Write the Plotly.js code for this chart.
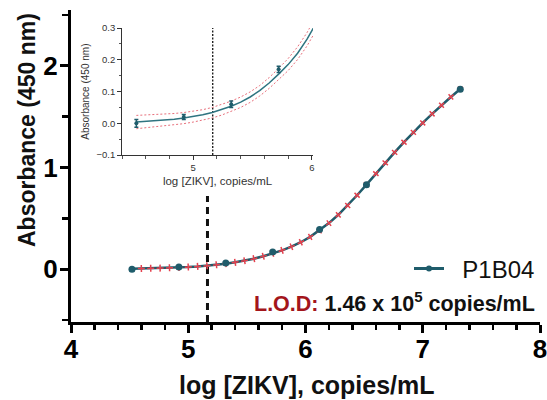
<!DOCTYPE html>
<html>
<head>
<meta charset="utf-8">
<script src="https://cdn.plot.ly/plotly-3.0.1.min.js"></script>
<style>html,body{margin:0;padding:0;background:#fff;}#chart{width:547px;height:400px;}</style>
</head>
<body>
<div id="chart"></div>
<script>
// Measured data points (log copies/mL vs absorbance)
const dataX = [4.52, 4.92, 5.32, 5.72, 6.12, 6.52, 7.32];
const dataY = [0.00, 0.02, 0.06, 0.17, 0.39, 0.83, 1.77];
const insetX = [4.52, 4.92, 5.32, 5.72];
const insetY = [0.00, 0.02, 0.06, 0.17];
const insetErr = [0.012, 0.008, 0.010, 0.010];

// Fitted curve
const fitX = [4.52,4.60,4.68,4.76,4.84,4.92,5.00,5.08,5.16,5.24,5.32,5.40,5.48,5.56,5.64,5.72,5.80,5.88,5.96,6.04,
              6.12,6.20,6.28,6.36,6.44,6.52,6.60,6.68,6.76,6.84,6.92,7.00,7.08,7.16,7.24,7.32];
const fitY = [0.004,0.006,0.008,0.010,0.013,0.017,0.021,0.027,0.034,0.043,0.054,0.067,0.083,0.103,0.127,0.155,0.185,0.221,0.265,0.318,
              0.381,0.453,0.535,0.627,0.727,0.832,0.940,1.046,1.149,1.249,1.346,1.439,1.528,1.613,1.694,1.772];

// Confidence band (inset)
const bandX = [4.52,4.60,4.68,4.76,4.84,4.92,5.00,5.08,5.16,5.24,5.32,5.40,5.48,5.56,5.64,5.72,5.80,5.88,5.96,6.04];
const bandUpper = [0.025,0.026,0.027,0.029,0.031,0.034,0.038,0.043,0.050,0.059,0.070,0.083,0.099,0.119,0.144,0.173,0.204,0.241,0.286,0.340];
const bandLower = [-0.017,-0.014,-0.011,-0.008,-0.005,-0.001,0.004,0.010,0.017,0.026,0.037,0.050,0.066,0.086,0.110,0.137,0.166,0.201,0.244,0.296];

const lod = 5.164;              // log10(1.46e5)
const lodLineY = [-0.52, 0.72];
const insetLodY = [-0.1, 0.3];

const seriesName = 'P1B04';
const xTicks = [4, 5, 6, 7, 8];
const yTicks = [0, 1, 2];
const insetXTicks = [5, 6];
const insetYTicks = [-0.1, 0.0, 0.1, 0.2, 0.3];

const TEAL = '#1f5c6b';
const RED = '#e5414e';
const FONT = 'Liberation Sans, Arial, sans-serif';

const traces = [
  // main LOD dashed line
  {x: [lod, lod], y: lodLineY, mode: 'lines', line: {color: '#111', width: 3, dash: '7px,5px'}, showlegend: false, hoverinfo: 'skip'},
  // main fit curve with red ticks
  {x: fitX, y: fitY, mode: 'lines+markers', line: {color: TEAL, width: 2.5},
   marker: {symbol: 'cross-thin', angleref: 'previous', size: 5, color: RED, line: {color: RED, width: 1.5}},
   showlegend: false},
  // main data points
  {x: dataX, y: dataY, mode: 'markers', marker: {color: TEAL, size: 7}, showlegend: false},
  // legend entry
  {x: [null], y: [null], mode: 'lines+markers', name: '&nbsp;&nbsp;' + seriesName, line: {color: TEAL, width: 3}, marker: {color: TEAL, size: 6}},
  // inset
  {x: [lod, lod], y: insetLodY, xaxis: 'x2', yaxis: 'y2', mode: 'lines', line: {color: '#222', width: 1.4, dash: '2px,1.5px'}, showlegend: false},
  {x: bandX, y: bandUpper, xaxis: 'x2', yaxis: 'y2', mode: 'lines', line: {color: '#e8707c', width: 1, dash: '2px,2px'}, showlegend: false},
  {x: bandX, y: bandLower, xaxis: 'x2', yaxis: 'y2', mode: 'lines', line: {color: '#e8707c', width: 1, dash: '2px,2px'}, showlegend: false},
  {x: fitX, y: fitY, xaxis: 'x2', yaxis: 'y2', mode: 'lines', line: {color: '#2f7480', width: 1.5}, showlegend: false},
  {x: insetX, y: insetY, xaxis: 'x2', yaxis: 'y2', mode: 'markers', marker: {color: TEAL, size: 4},
   error_y: {type: 'data', array: insetErr, color: TEAL, thickness: 1.5, width: 2}, showlegend: false}
];

const layout = {
  width: 547, height: 400,
  margin: {l: 71, r: 7, t: 10, b: 78},
  paper_bgcolor: '#fff', plot_bgcolor: 'rgba(0,0,0,0)',
  font: {family: FONT, color: '#000'},
  showlegend: true,
  legend: {x: 1, xanchor: 'right', y: 0.17, yanchor: 'middle', font: {size: 24, family: FONT, color: '#111'}, bgcolor: 'rgba(0,0,0,0)', borderwidth: 0},
  xaxis: {range: [4, 8], tickvals: xTicks, showline: true, linewidth: 3, linecolor: '#000', ticks: 'outside', ticklen: 8, tickwidth: 3, tickcolor: '#000',
          ticklabeloverflow: 'allow', ticklabelstandoff: -6,
          minor: {dtick: 0.2, tick0: 4, ticks: 'outside', ticklen: 5, tickwidth: 2.5, tickcolor: '#000'},
          showgrid: false, zeroline: false, tickfont: {size: 26, family: FONT, weight: 'bold'}},
  yaxis: {range: [-0.52, 2.55], tickvals: yTicks, showline: true, linewidth: 3, linecolor: '#000', ticks: 'outside', ticklen: 8, tickwidth: 3, tickcolor: '#000',
          ticklabelstandoff: -3,
          minor: {dtick: 0.5, tick0: 0, ticks: 'outside', ticklen: 6, tickwidth: 2.5, tickcolor: '#000'},
          showgrid: false, zeroline: false, tickfont: {size: 26, family: FONT, weight: 'bold'}},
  xaxis2: {domain: [0.109, 0.516], anchor: 'y2', range: [4.4, 6.01], tickvals: insetXTicks, showline: true, linewidth: 1, linecolor: '#333',
           ticks: 'outside', ticklen: 4, tickwidth: 1, tickcolor: '#333',
           minor: {dtick: 0.2, tick0: 4, ticks: 'outside', ticklen: 3, tickwidth: 1, tickcolor: '#555'},
           showgrid: false, zeroline: false, tickfont: {size: 9.5, color: '#333'},
           title: {text: 'log [ZIKV], copies/mL', font: {size: 11.5, color: '#333'}, standoff: 4}},
  yaxis2: {domain: [0.535, 0.942], anchor: 'x2', range: [-0.1, 0.3], tickvals: insetYTicks, tickformat: '.1f', showline: true, linewidth: 1, linecolor: '#333',
           ticks: 'outside', ticklen: 4, tickwidth: 1, tickcolor: '#333',
           minor: {dtick: 0.05, tick0: 0, ticks: 'outside', ticklen: 2.5, tickwidth: 1, tickcolor: '#555'},
           showgrid: false, zeroline: false, tickfont: {size: 9.5, color: '#333'},
           title: {text: 'Absorbance (450 nm)', font: {size: 10, color: '#333'}, standoff: 4}},
  annotations: [
    {text: 'log [ZIKV], copies/mL', xref: 'paper', yref: 'paper', x: 0.503, y: -0.202, xanchor: 'center', yanchor: 'middle', showarrow: false,
     font: {size: 25, family: FONT, weight: 'bold', color: '#111'}},
    {text: 'Absorbance (450 nm)', xref: 'paper', yref: 'paper', x: -0.094, y: 0.615, xanchor: 'center', yanchor: 'middle', textangle: -90, showarrow: false,
     font: {size: 23, family: FONT, weight: 'bold', color: '#111'}},
    {text: '<span style="color:#a3151b">L.O.D:</span> 1.46 x 10<sup>5</sup> copies/mL', xref: 'paper', yref: 'paper', x: 0.9936, y: 0.064,
     xanchor: 'right', yanchor: 'middle', showarrow: false, font: {size: 21.5, family: FONT, weight: 'bold', color: '#111'}}
  ]
};

Plotly.newPlot('chart', traces, layout, {displayModeBar: false, staticPlot: true});
</script>
</body>
</html>
